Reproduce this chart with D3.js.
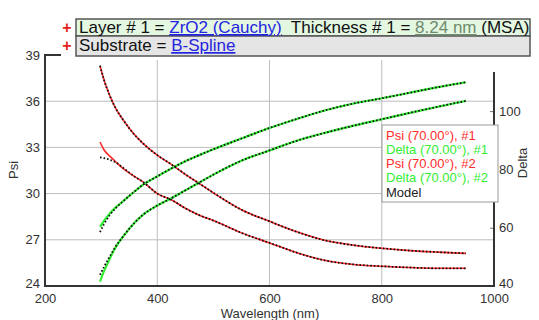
<!DOCTYPE html>
<html>
<head>
<meta charset="utf-8">
<script src="https://cdn.jsdelivr.net/npm/d3@7"></script>
<style>
  body { margin: 0; background: #fff; }
  text { font-family: "Liberation Sans", Arial, sans-serif; }
</style>
</head>
<body>
<script>
// wavelength grid (nm)
var wavelength = [298, 305, 315, 325, 340, 360, 375, 400, 425, 450, 475, 500, 550, 600, 650, 700, 750, 800, 850, 900, 950];

// measured data
var psi1   = [38.3, 37.4, 36.4, 35.6, 34.75, 33.8, 33.25, 32.5, 31.9, 31.25, 30.65, 30.05, 28.95, 28.2, 27.5, 26.95, 26.65, 26.45, 26.3, 26.2, 26.12];
var delta1 = [60.3, 62.3, 64.8, 66.8, 69.2, 72.5, 74.8, 77.6, 80.3, 82.8, 84.9, 86.9, 90.6, 94.2, 97.4, 100.3, 102.6, 104.4, 106.3, 108.2, 109.9];
var psi2   = [33.35, 32.85, 32.45, 32.1, 31.6, 31.1, 30.75, 30.0, 29.6, 29.05, 28.6, 28.25, 27.45, 26.8, 26.15, 25.65, 25.4, 25.28, 25.2, 25.15, 25.15];
var delta2 = [41.5, 45.0, 49.2, 53.0, 57.2, 61.8, 64.5, 67.6, 70.1, 72.8, 75.5, 78.2, 83.0, 86.5, 89.9, 92.6, 95.0, 97.2, 99.4, 101.5, 103.5];

// model fits
var modelPsi1   = [38.3, 37.4, 36.4, 35.6, 34.75, 33.8, 33.25, 32.5, 31.9, 31.25, 30.65, 30.05, 28.95, 28.2, 27.5, 26.95, 26.65, 26.45, 26.3, 26.2, 26.12];
var modelDelta1 = [58.5, 61.2, 64.2, 66.5, 69.2, 72.5, 74.8, 77.6, 80.3, 82.8, 84.9, 86.9, 90.6, 94.2, 97.4, 100.3, 102.6, 104.4, 106.3, 108.2, 109.9];
var modelPsi2   = [32.35, 32.3, 32.2, 32.05, 31.65, 31.1, 30.75, 30.0, 29.6, 29.05, 28.6, 28.25, 27.45, 26.8, 26.15, 25.65, 25.4, 25.28, 25.2, 25.15, 25.15];
var modelDelta2 = [43.8, 46.5, 50.0, 53.3, 57.2, 61.8, 64.5, 67.6, 70.1, 72.8, 75.5, 78.2, 83.0, 86.5, 89.9, 92.6, 95.0, 97.2, 99.4, 101.5, 103.5];

var xTicks = [200, 400, 600, 800, 1000];
var psiTicks = [24, 27, 30, 33, 36, 39];
var deltaTicks = [40, 60, 80, 100];
var legendLabels = ["Psi (70.00°), #1", "Delta (70.00°), #1", "Psi (70.00°), #2", "Delta (70.00°), #2", "Model"];

var red = "#ff2b2b", green = "#33ee33";
var legendColors = [red, green, red, green, "#222"];

var width = 539, height = 320;
var svg = d3.select("body").append("svg")
  .attr("width", width)
  .attr("height", height);

var x = d3.scaleLinear().domain([200, 1000]).range([45, 494]);
var yL = d3.scaleLinear().domain([24, 39]).range([286, 55]);
var yR = d3.scaleLinear().domain([40, 120]).range([286, 52.8]);

// grid lines
svg.append("g").selectAll("line.v")
  .data([400, 600, 800]).enter().append("line")
  .attr("x1", d => x(d)).attr("x2", d => x(d))
  .attr("y1", 60).attr("y2", 286)
  .attr("stroke", "#bdbdbd");
svg.append("g").selectAll("line.h")
  .data([27, 30, 33, 36]).enter().append("line")
  .attr("x1", 45).attr("x2", 494)
  .attr("y1", d => yL(d)).attr("y2", d => yL(d))
  .attr("stroke", "#bdbdbd");

// axes
var gx = svg.append("g")
  .attr("transform", "translate(0,286)")
  .call(d3.axisBottom(x).tickValues(xTicks).tickSize(0).tickPadding(8).tickFormat(d3.format("d")));
var gl = svg.append("g")
  .attr("transform", "translate(45,0)")
  .call(d3.axisLeft(yL).tickValues(psiTicks).tickSize(0).tickPadding(5));
var gr = svg.append("g")
  .attr("transform", "translate(494,0)")
  .call(d3.axisRight(yR).tickValues(deltaTicks).tickSize(-4).tickPadding(5));

[gx, gl, gr].forEach(function (g) {
  g.select(".domain").remove();
  g.selectAll("text").attr("fill", "#333").style("font-size", "13px");
  g.selectAll(".tick line").attr("stroke", "#777");
});
// bottom labels sit a little higher so they clear the x labels
gl.selectAll(".tick").filter(d => d == 24).select("text").attr("dy", "0.1em");
gr.selectAll(".tick").filter(d => d == 40).select("text").attr("dy", "0.1em");

// frame
svg.append("line").attr("x1", 45).attr("x2", 45).attr("y1", 55).attr("y2", 287).attr("stroke", "#333").attr("stroke-width", 2);
svg.append("line").attr("x1", 44).attr("x2", 495).attr("y1", 286).attr("y2", 286).attr("stroke", "#333").attr("stroke-width", 2);
svg.append("line").attr("x1", 494).attr("x2", 494).attr("y1", 72).attr("y2", 287).attr("stroke", "#333").attr("stroke-width", 2);
svg.append("line").attr("x1", 44).attr("x2", 61).attr("y1", 55).attr("y2", 55).attr("stroke", "#333").attr("stroke-width", 2);

// curves
function lineFor(yScale, values) {
  return d3.line()
    .x((d, i) => x(wavelength[i]))
    .y((d, i) => yScale(values[i]))
    .curve(d3.curveMonotoneX)(values);
}

var series = [
  { v: psi1, s: yL, c: red, w: 1.6 },
  { v: psi2, s: yL, c: red, w: 1.6 },
  { v: delta1, s: yR, c: green, w: 2.2 },
  { v: delta2, s: yR, c: green, w: 2.2 }
];
series.forEach(function (d) {
  svg.append("path")
    .attr("d", lineFor(d.s, d.v))
    .attr("fill", "none")
    .attr("stroke", d.c)
    .attr("stroke-width", d.w);
});

var models = [
  { v: modelPsi1, s: yL },
  { v: modelPsi2, s: yL },
  { v: modelDelta1, s: yR },
  { v: modelDelta2, s: yR }
];
models.forEach(function (d) {
  svg.append("path")
    .attr("d", lineFor(d.s, d.v))
    .attr("fill", "none")
    .attr("stroke", "#111")
    .attr("stroke-width", 1.8)
    .attr("stroke-dasharray", "1.6,2");
});

// axis titles
svg.append("text").attr("x", 270).attr("y", 318).attr("text-anchor", "middle")
  .style("font-size", "13px").attr("fill", "#333").text("Wavelength (nm)");
svg.append("text").attr("transform", "translate(18,170) rotate(-90)").attr("text-anchor", "middle")
  .style("font-size", "13px").attr("fill", "#333").text("Psi");
svg.append("text").attr("transform", "translate(527,163) rotate(-90)").attr("text-anchor", "middle")
  .style("font-size", "13px").attr("fill", "#333").text("Delta");

// legend
var lg = svg.append("g");
lg.append("rect").attr("x", 382).attr("y", 125).attr("width", 116).attr("height", 77)
  .attr("fill", "#fff").attr("stroke", "#999");
lg.selectAll("text").data(legendLabels).enter().append("text")
  .attr("x", 386)
  .attr("y", (d, i) => 139.5 + i * 14.3)
  .style("font-size", "13px")
  .attr("fill", (d, i) => legendColors[i])
  .text(d => d);

// header boxes
var hd = svg.append("g");
hd.append("rect").attr("x", 76).attr("y", 19).attr("width", 454).attr("height", 17)
  .attr("fill", "#e3f7e1").attr("stroke", "#555").attr("stroke-width", 1.5);
hd.append("rect").attr("x", 76).attr("y", 36).attr("width", 454).attr("height", 20)
  .attr("fill", "#e5e5e5").attr("stroke", "#555").attr("stroke-width", 1.5);

var row1 = hd.append("text").attr("x", 79).attr("y", 33).style("font-size", "17px").style("white-space", "pre");
row1.append("tspan").attr("fill", "#111").text("Layer # 1 = ");
row1.append("tspan").attr("fill", "#2424e0").style("text-decoration", "underline").text("ZrO2 (Cauchy)");
row1.append("tspan").attr("fill", "#111").text("  Thickness # 1 = ");
row1.append("tspan").attr("fill", "#6f8a6f").style("text-decoration", "underline").text("8.24 nm");
row1.append("tspan").attr("fill", "#111").text(" (MSA)");

var row2 = hd.append("text").attr("x", 79).attr("y", 51).style("font-size", "17px").style("white-space", "pre");
row2.append("tspan").attr("fill", "#111").text("Substrate = ");
row2.append("tspan").attr("fill", "#2424e0").style("text-decoration", "underline").text("B-Spline");

hd.selectAll("text.plus").data([28, 46]).enter().append("text")
  .attr("x", 67).attr("y", d => d + 5).attr("text-anchor", "middle")
  .style("font-size", "16px").style("font-weight", "bold").attr("fill", "#e52020").text("+");
</script>
</body>
</html>
